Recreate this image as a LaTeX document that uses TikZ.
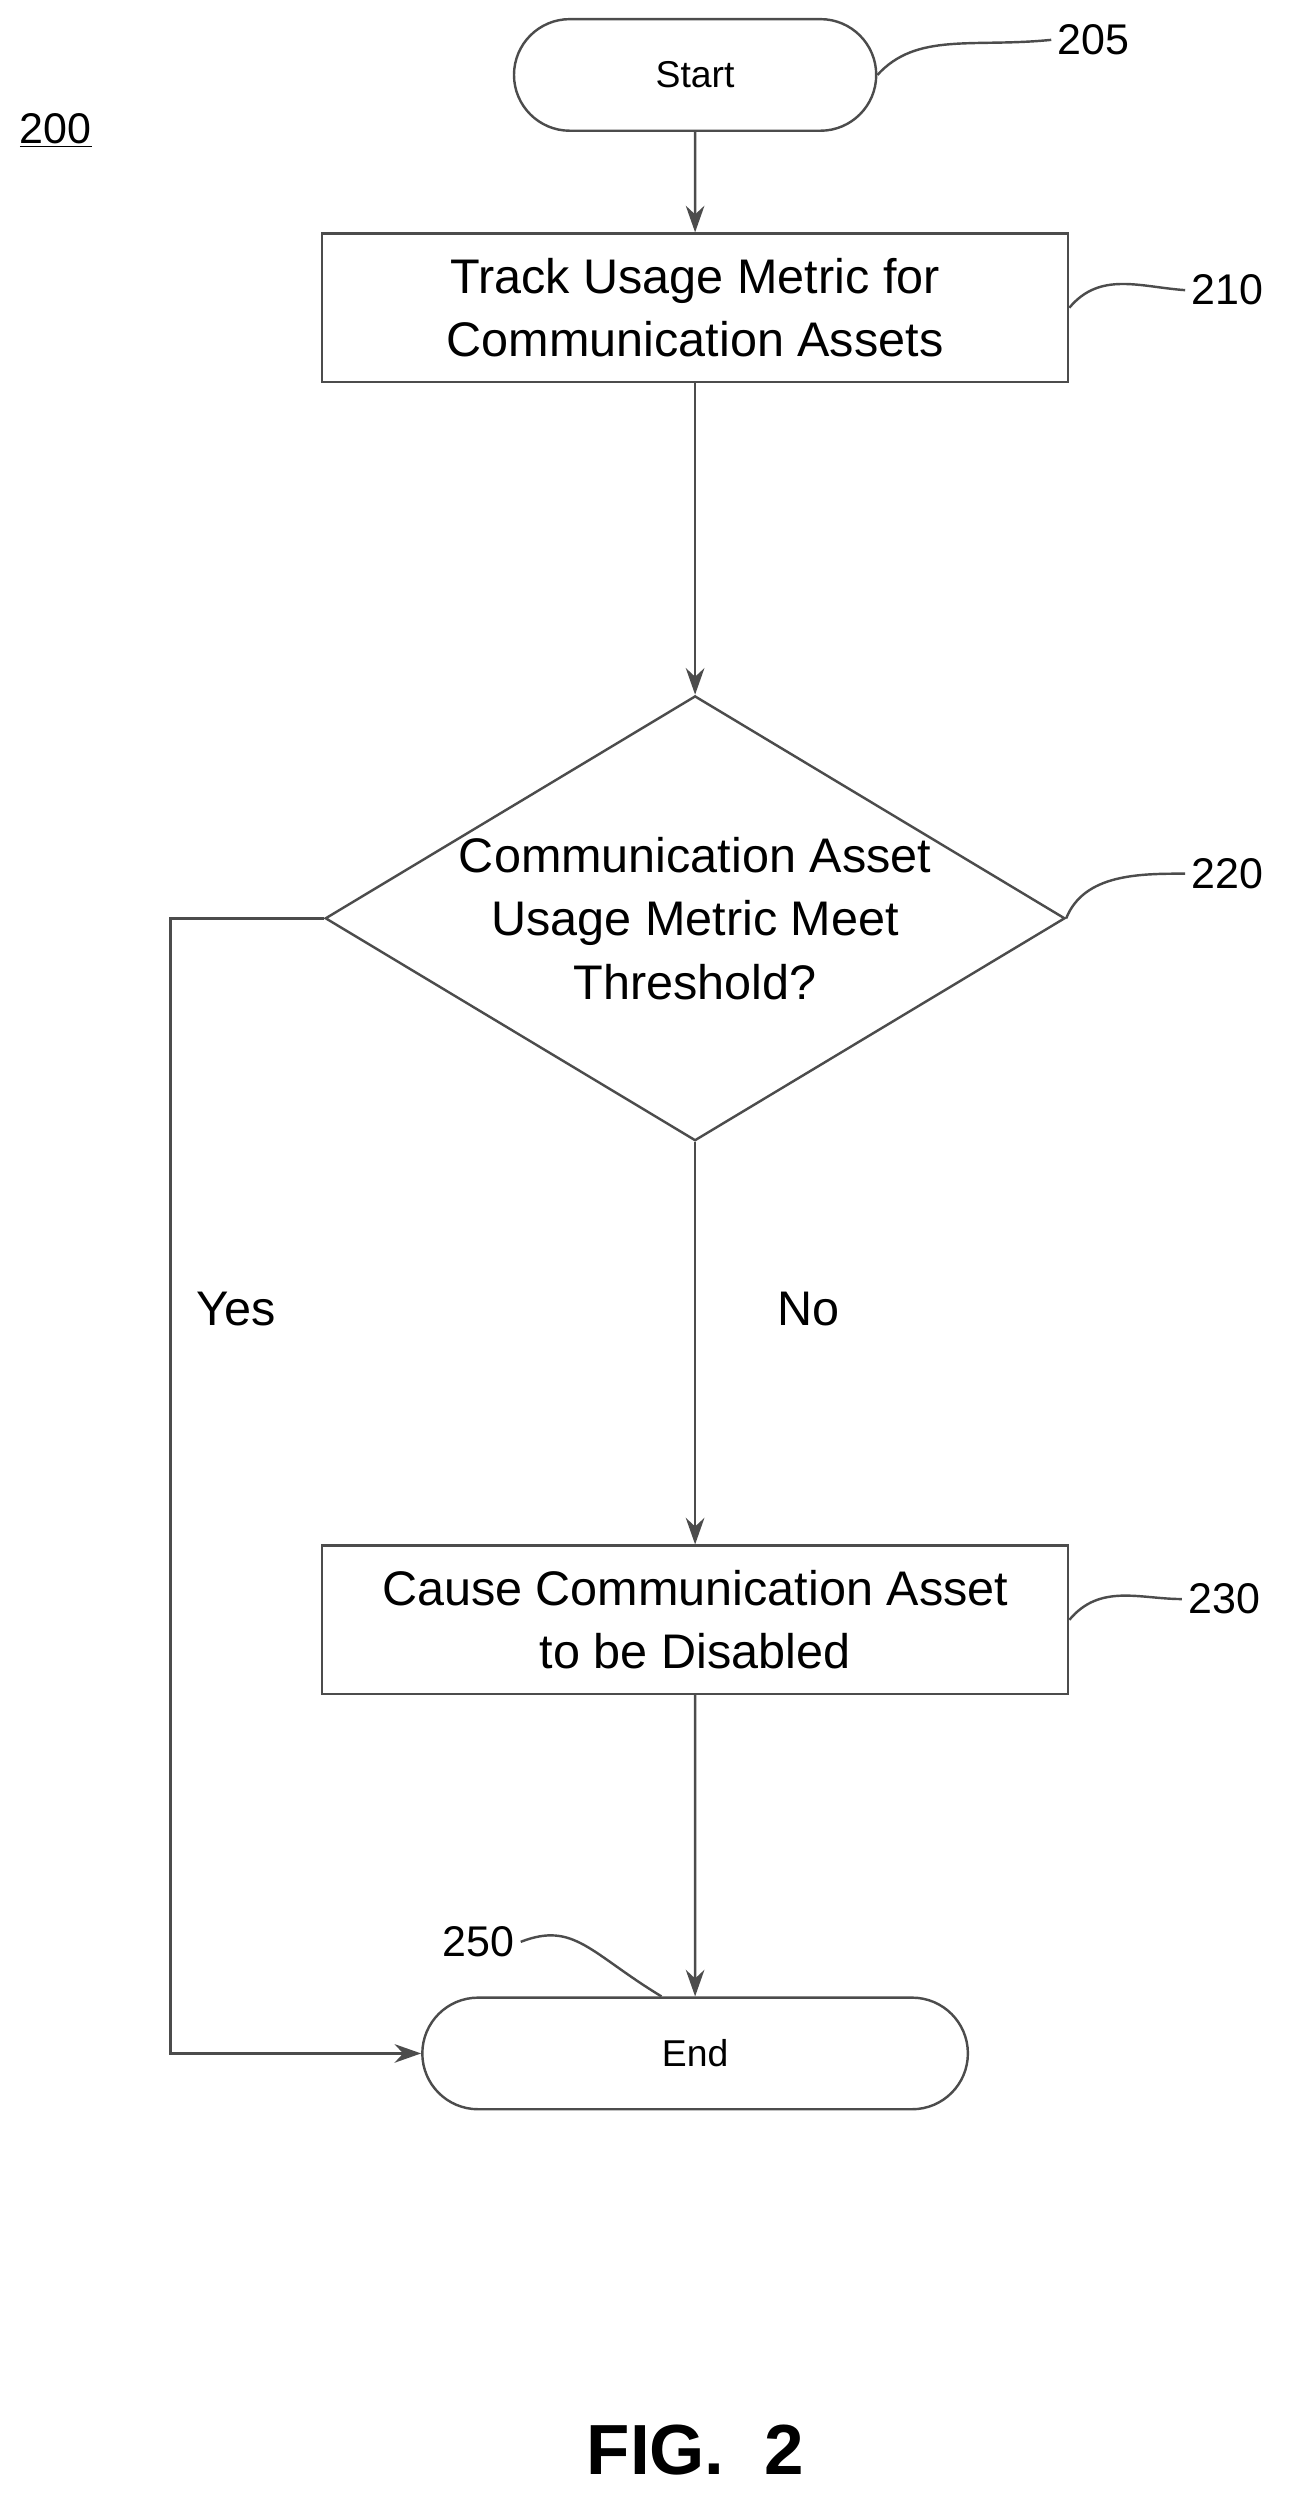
\documentclass[tikz,border=0pt]{standalone}
\usepackage{fontspec}
\setmainfont{Liberation Sans}
\usetikzlibrary{arrows,arrows.meta,positioning,shapes,calc}

\tikzset{
	line/.style		= {draw=black!70, line width=1.3pt},
	flow/.style		= {line, -{Stealth[length=5mm,width=3.5mm]}},
	terminal/.style	= {rounded rectangle, line, minimum width=10.5cm, minimum height=2.1cm, font=\fontsize{20}{24}\selectfont},
	process/.style	= {rectangle, line, minimum width=14.04cm, minimum height=2.79cm, align=center, font=\fontsize{26}{34}\selectfont},
	decision/.style	= {diamond, line, inner sep=0pt, minimum width=13.92cm, minimum height=8.37cm},
	ref/.style		= {font=\fontsize{23}{26}\selectfont},
}

\begin{document}
\begin{tikzpicture}
[
	x	= 0.03cm,	% one unit per reference pixel
	y	= -0.03cm,	%
]
\useasboundingbox (0,0) rectangle (820,1570);

% nodes
\node[terminal, minimum width=7.05cm]	(start)	at (436,47)		{Start};
\node[process]							(track)	at (436,193)	{Track Usage Metric for\\Communication Assets};
\node[decision]							(check)	at (436,576)	{};
\node[align=center, font=\fontsize{26}{34}\selectfont] (checktext) at (436,576) {Communication Asset\\Usage Metric Meet\\Threshold?};
\node[process]							(disable) at (436,1016)	{Cause Communication Asset\\to be Disabled};
\node[terminal]							(end)	at (436,1288)	{End};

% reference numbers
\node[ref]	(n200)	at (35,82)		{\underline{200}};
\node[ref]	(n205)	at (686,25)		{205};
\node[ref]	(n210)	at (770,182)	{210};
\node[ref]	(n220)	at (770,548)	{220};
\node[ref]	(n230)	at (768,1003)	{230};
\node[ref]	(n250)	at (300,1218)	{250};
\node[font=\bfseries\fontsize{38}{44}\selectfont] (fig) at (436,1537) {FIG.\ \ 2};

% leaders
\draw[line] (start.east) .. controls (575,20) and (610,30) .. (n205.west);
\draw[line] (track.east) .. controls (690,170) and (715,180) .. (n210.west);
\draw[line] (check.east) .. controls (680,548) and (715,548) .. (n220.west);
\draw[line] (disable.east) .. controls (690,993) and (715,1003) .. (n230.west);
\draw[line] ($(end.north west)+(115,0)$) .. controls (370,1225) and (360,1205) .. (n250.east);

% flow
\draw[flow] (start)		-- (track);
\draw[flow] (track)		-- (check);
\draw[flow] (check)		-- (disable);
\draw[flow] (disable)	-- (end);
\coordinate (yesbend) at (107,576);
\draw[flow] (check.west) -- (yesbend) |- (end.west);
\node[font=\fontsize{26}{30}\selectfont] (yes) at (148,821) {Yes};
\node[font=\fontsize{26}{30}\selectfont] (no)  at (507,821) {No};

\end{tikzpicture}
\end{document}
